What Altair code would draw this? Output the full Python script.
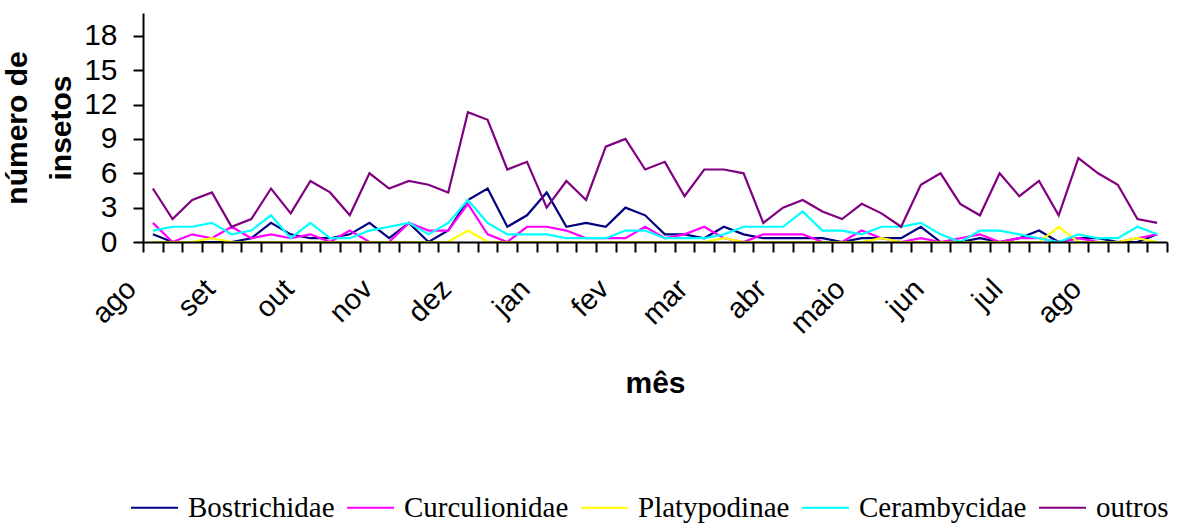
import json
import altair as alt
import pandas as pd

# month labels, one every four sampling dates
months = ["ago", "set", "out", "nov", "dez", "jan", "fev", "mar", "abr", "maio", "jun", "jul", "ago"]

series_names = ["Bostrichidae", "Curculionidae", "Platypodinae", "Cerambycidae", "outros"]
series_colors = ["#000080", "#FF00FF", "#FFFF00", "#00FFFF", "#800080"]

bostrichidae = [0.67, 0, 0, 0, 0, 0.33, 1.67, 0.67, 0.33, 0.33, 0.67, 1.67, 0.33, 1.67,
                0, 1.0, 3.67, 4.67, 1.33, 2.33, 4.33, 1.33, 1.67, 1.33, 3.0, 2.33, 0.67,
                0.67, 0.33, 1.33, 0.67, 0.33, 0.33, 0.33, 0.33, 0, 0.33, 0.33, 0.33, 1.33,
                0, 0, 0.33, 0, 0.33, 1.0, 0, 0.33, 0.33, 0, 0, 0.67]
curculionidae = [1.67, 0, 0.67, 0.33, 1.33, 0.33, 0.67, 0.33, 0.67, 0, 1.0, 0, 0, 1.67,
                 1.0, 1.0, 3.33, 0.67, 0, 1.33, 1.33, 1.0, 0.33, 0.33, 0.33, 1.33, 0.33,
                 0.67, 1.33, 0.33, 0, 0.67, 0.67, 0.67, 0, 0, 1.0, 0.33, 0, 0.33,
                 0, 0.33, 0.67, 0, 0.33, 0.33, 0, 0.33, 0, 0, 0.33, 0.67]
platypodinae = [0, 0, 0, 0.33, 0, 0, 0, 0, 0, 0, 0, 0, 0, 0,
                0, 0, 1.0, 0, 0, 0, 0, 0, 0, 0, 0, 0, 0,
                0, 0, 0.33, 0, 0, 0, 0, 0, 0, 0, 0.33, 0, 0,
                0, 0, 0, 0, 0, 0, 1.33, 0, 0, 0, 0.33, 0]
cerambycidae = [1.0, 1.33, 1.33, 1.67, 0.67, 1.0, 2.33, 0.33, 1.67, 0.33, 0.33, 1.0, 1.33, 1.67,
                0.67, 1.67, 3.67, 1.67, 0.67, 0.67, 0.67, 0.33, 0.33, 0.33, 1.0, 1.0, 0.33,
                0.33, 0.33, 0.67, 1.33, 1.33, 1.33, 2.67, 1.0, 1.0, 0.67, 1.33, 1.33, 1.67,
                0.67, 0, 1.0, 1.0, 0.67, 0.33, 0, 0.67, 0.33, 0.33, 1.33, 0.67]
outros = [4.67, 2.0, 3.67, 4.33, 1.33, 2.0, 4.67, 2.5, 5.33, 4.33, 2.33, 6.0, 4.67, 5.33,
          5.0, 4.33, 11.33, 10.67, 6.33, 7.0, 3.0, 5.33, 3.67, 8.33, 9.0, 6.33, 7.0,
          4.0, 6.33, 6.33, 6.0, 1.67, 3.0, 3.67, 2.67, 2.0, 3.33, 2.5, 1.33, 5.0,
          6.0, 3.33, 2.33, 6.0, 4.0, 5.33, 2.33, 7.33, 6.0, 5.0, 2.0, 1.67]

y_ticks = [0, 3, 6, 9, 12, 15, 18]

all_series = [bostrichidae, curculionidae, platypodinae, cerambycidae, outros]
n_dates = len(outros)

rows = []
for name, values in zip(series_names, all_series):
    for i, v in enumerate(values):
        # each date sits in the middle of its category slot
        rows.append({"serie": name, "pos": i + 0.5, "valor": v})
df = pd.DataFrame(rows)

label_expr = (
    f"datum.value % 4 == 0 && datum.value < {n_dates} ? "
    f"{json.dumps(months)}[datum.value / 4] : ''"
)

chart = alt.Chart(df).mark_line(strokeWidth=2.2).encode(
    x=alt.X(
        "pos:Q",
        scale=alt.Scale(domain=[0, n_dates], nice=False, zero=False),
        axis=alt.Axis(
            values=list(range(n_dates + 1)),
            labelExpr=label_expr,
            labelAngle=-45,
            labelAlign="right",
            labelBaseline="middle",
            labelFontSize=29,
            labelPadding=32,
            labelOffset=-12,
            labelOverlap=False,
            labelFlush=False,
            title="mês",
            titleFontSize=30,
            titleFontWeight="bold",
            titleX=512,
            titleY=150,
            titleBaseline="alphabetic",
            titleAlign="center",
            zindex=1,
        ),
    ),
    y=alt.Y(
        "valor:Q",
        scale=alt.Scale(domain=[0, 20], nice=False),
        axis=alt.Axis(
            values=y_ticks,
            labelFontSize=30,
            labelPadding=16,
            labelFlush=False,
            title=["número de", "insetos"],
            titleFontSize=30,
            titleFontWeight="bold",
            titleAngle=-90,
            titleX=-117,
            titleY=114.5,
            titleAlign="center",
            titleBaseline="alphabetic",
            titleLineHeight=44,
            zindex=1,
        ),
    ),
    color=alt.Color(
        "serie:N",
        scale=alt.Scale(domain=series_names, range=series_colors),
        legend=alt.Legend(
            title=None,
            orient="none",
            legendX=-13,
            legendY=470,
            direction="horizontal",
            symbolType="stroke",
            symbolSize=2209,
            symbolStrokeWidth=2,
            labelFont="Liberation Serif",
            labelFontSize=29,
            labelOffset=9,
            labelLimit=0,
            columnPadding=8,
        ),
    ),
    detail="serie:N",
).properties(
    width=1024,
    height=229,
    autosize=alt.AutoSizeParams(type="none"),
    padding={"left": 143, "top": 13, "right": 14, "bottom": 281},
    background="white",
).configure_view(
    stroke=None,
).configure_axis(
    grid=False,
    domainColor="black",
    domainWidth=2,
    tickColor="black",
    tickWidth=2,
    tickSize=10,
    labelColor="black",
    titleColor="black",
    labelFont="Liberation Sans",
    titleFont="Liberation Sans",
)

chart.save("out.html", embed_options={"renderer": "svg", "actions": False})
